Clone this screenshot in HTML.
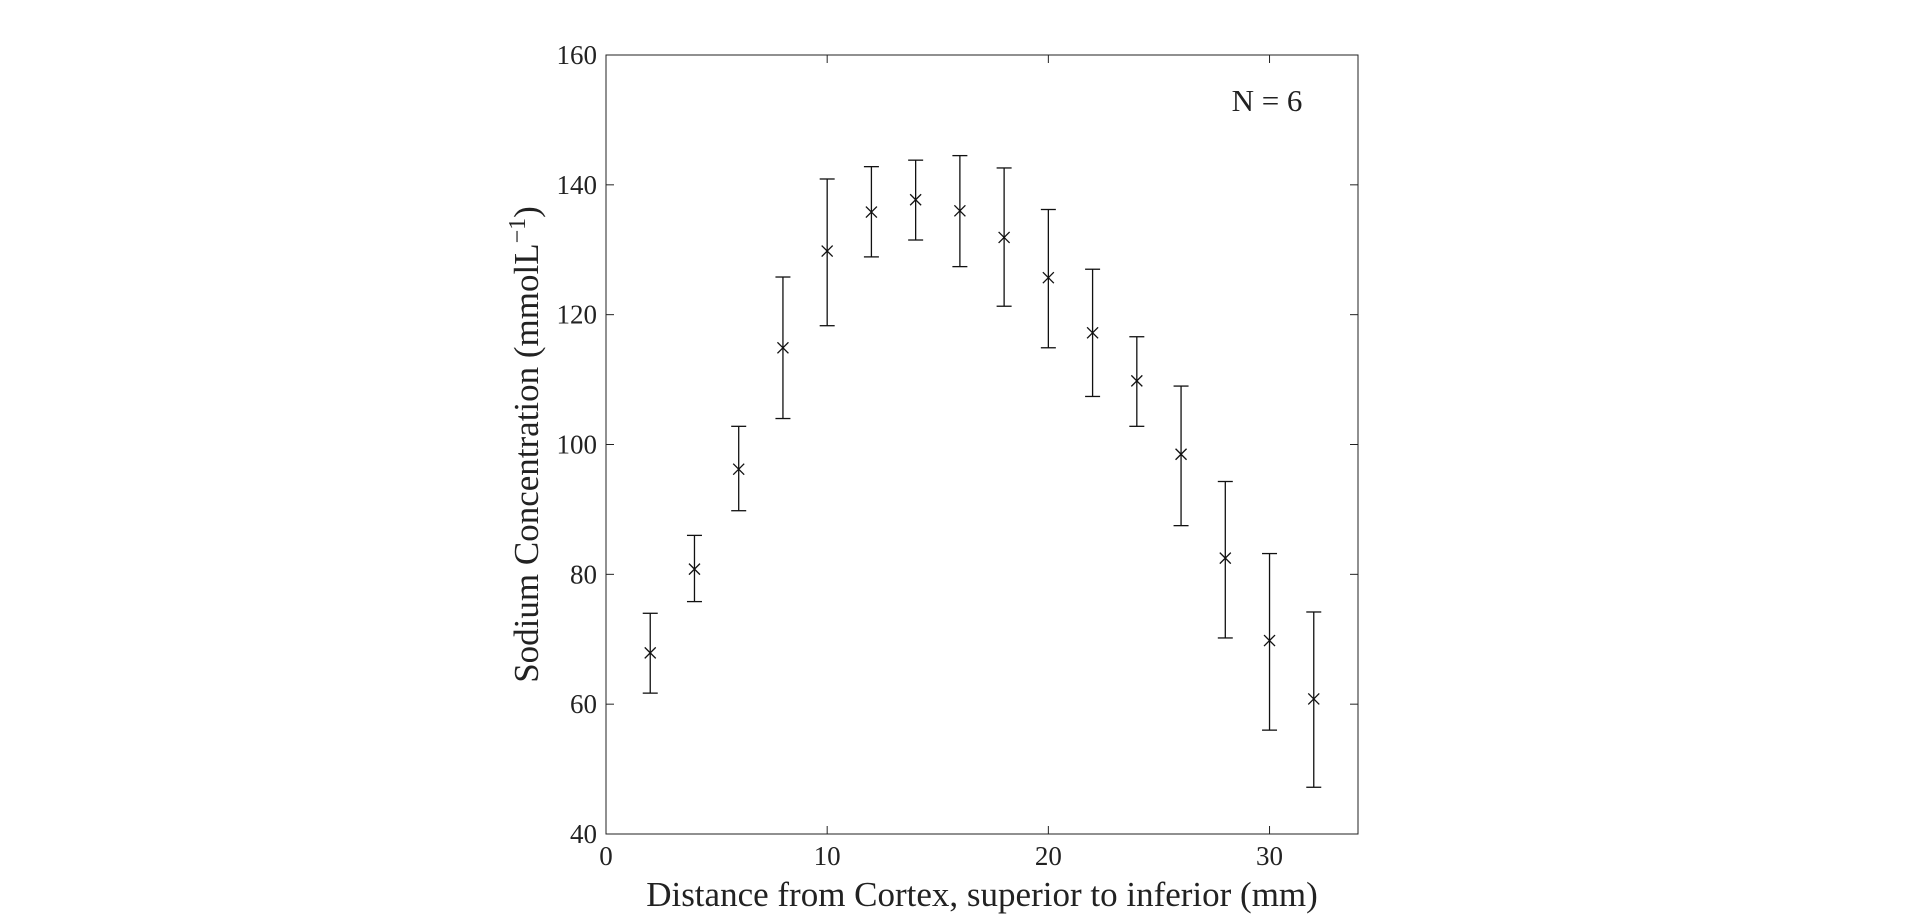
<!DOCTYPE html>
<html><head><meta charset="utf-8"><style>
html,body{margin:0;padding:0;background:#fff;}
svg{display:block;font-family:"Liberation Serif",serif;}
</style></head><body>
<svg id="chart" width="1920" height="917"></svg>
<script>
const xs=[2,4,6,8,10,12,14,16,18,20,22,24,26,28,30,32];
const means=[67.9,80.8,96.2,114.9,129.8,135.8,137.7,136,131.9,125.7,117.2,109.8,98.5,82.5,69.8,60.8];
const uppers=[74,86,102.8,125.8,140.9,142.8,143.8,144.5,142.6,136.2,127,116.6,109,94.3,83.2,74.2];
const lowers=[61.7,75.8,89.8,104,118.3,128.9,131.5,127.4,121.3,114.9,107.4,102.8,87.5,70.2,56,47.2];
const xTicks=[0,10,20,30];
const yTicks=[40,60,80,100,120,140,160];
const L=606,R=1358,T=55,B=834,XMAX=34,YMIN=40,YMAX=160;
const sx=v=>L+(R-L)*v/XMAX, sy=v=>B-(B-T)*(v-YMIN)/(YMAX-YMIN);
const svg=document.getElementById('chart');const NS='http://www.w3.org/2000/svg';
function el(t,a,p){const e=document.createElementNS(NS,t);for(const k in a)e.setAttribute(k,a[k]);(p||svg).appendChild(e);return e;}
const frame=el('rect',{x:L,y:T,width:R-L,height:B-T,fill:'none',stroke:'#222','stroke-width':1});


xTicks.forEach(v=>{
  const x=sx(v);
  el('line',{x1:x,y1:B,x2:x,y2:B-8,stroke:'#222'});
  el('line',{x1:x,y1:T,x2:x,y2:T+8,stroke:'#222'});
  const t=el('text',{x:x,y:B+31,'text-anchor':'middle','font-size':27,fill:'#222'});t.textContent=v;
  
  
});
yTicks.forEach(v=>{
  const y=sy(v);
  el('line',{x1:L,y1:y,x2:L+8,y2:y,stroke:'#222'});
  el('line',{x1:R,y1:y,x2:R-8,y2:y,stroke:'#222'});
  const t=el('text',{x:L-9,y:y+9,'text-anchor':'end','font-size':27,fill:'#222'});t.textContent=v;
  
  
});
xs.forEach((v,i)=>{
  const g=el('g',{stroke:'#111','stroke-width':1.3,fill:'none'});
  
  
  const x=sx(v),yt=sy(uppers[i]),yb=sy(lowers[i]),ym=sy(means[i]),c=7.5,m=5.5;
  el('line',{x1:x,y1:yt,x2:x,y2:yb},g);
  el('line',{x1:x-c,y1:yt,x2:x+c,y2:yt},g);
  el('line',{x1:x-c,y1:yb,x2:x+c,y2:yb},g);
  el('line',{x1:x-m,y1:ym-m,x2:x+m,y2:ym+m},g);
  el('line',{x1:x-m,y1:ym+m,x2:x+m,y2:ym-m},g);
});
const xl=el('text',{x:(L+R)/2,y:906,'text-anchor':'middle','font-size':35,fill:'#222'});
xl.textContent='Distance from Cortex, superior to inferior (mm)';


const yl=el('text',{x:0,y:0,'text-anchor':'middle','font-size':35,fill:'#222',transform:`translate(538,${(T+B)/2}) rotate(-90)`});
yl.innerHTML='Sodium Concentration (mmolL<tspan baseline-shift="super" font-size="24">−1</tspan>)';


const n=el('text',{x:1267,y:111,'text-anchor':'middle','font-size':31,fill:'#222'});
n.textContent='N  =  6';
n.setAttribute('xml:space','preserve');


</script>
</body></html>
